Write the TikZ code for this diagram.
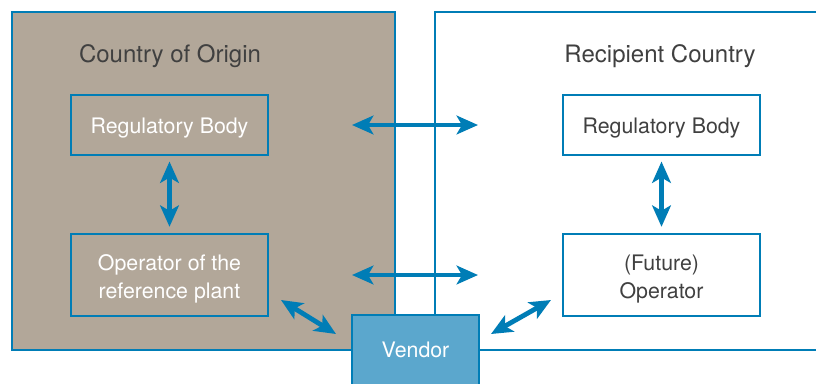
\documentclass[tikz,border=0pt]{standalone}
\usepackage{fontspec}
\setmainfont{TeX Gyre Heros}
\usepackage{tikz}
\usetikzlibrary{arrows.meta, positioning}
\definecolor{linkblue}{RGB}{0,125,182}
\definecolor{stone}{RGB}{178,167,153}
\definecolor{vendorblue}{RGB}{91,167,205}
\definecolor{textgray}{RGB}{64,64,64}

\begin{document}
\begin{tikzpicture}[
    x=0.75pt, y=-0.75pt,
    region node/.style={rectangle,draw=linkblue,line width=1.6pt,minimum height=253.5pt},
    title node/.style={font=\fontsize{18}{21}\selectfont,text=textgray},
    box node/.style={rectangle,draw=linkblue,line width=1.8pt,minimum width=147.75pt,
        align=center,font=\fontsize{16}{21}\selectfont},
    one line/.style={minimum height=45pt,text height=15.8pt},
    two lines/.style={minimum height=61.5pt,text height=38.8pt},
    vendor node/.style={rectangle,draw=linkblue,fill=vendorblue,line width=1.8pt,
        minimum width=95.25pt,minimum height=52.5pt,text=white,font=\fontsize{16}{21}\selectfont},
    arrow/.style={{Stealth[length=16pt,width=14pt,inset=4pt]}-{Stealth[length=16pt,width=14pt,inset=4pt]},
        draw=linkblue,line width=3.6pt}
]
\useasboundingbox (0,0) rectangle (816,383);
\clip (0,0) rectangle (816,383);

% Countries
\node[region node,fill=stone,minimum width=287.25pt] (origin) at (203.5,181) {};
\node[region node,fill=white,minimum width=296.25pt] (recipient) at (632.5,181) {};
\node[title node] (origintitle) at (170,56) {Country of Origin};
\node[title node] (recipienttitle) at (660,56) {Recipient Country};

% Left side
\node[box node,one line,text=white] (regorigin) at (169.5,125) {Regulatory Body};
\node[box node,two lines,text=white] (oporigin) at (169.5,275) {Operator of the\\reference plant};

% Right side
\node[box node,one line,fill=white,text=textgray] (regrecip) at (661.5,125) {Regulatory Body};
\node[box node,two lines,fill=white,text=textgray] (oprecip) at (661.5,275) {(Future)\\Operator};

% Vendor
\node[vendor node] (vendor) at (415.5,350) {Vendor};

% Arrow ends
\coordinate (regleft) at (352,125);
\coordinate (regright) at (478,125);
\coordinate (opleft) at (352,275);
\coordinate (opright) at (478,275);
\coordinate (vendorleft) at (336,334);
\coordinate (vendorright) at (491,334);
\coordinate (oporiginend) at (281,300);
\coordinate (oprecipend) at (551,300);

% Arrows
\draw[arrow] (regleft) -- (regright);
\draw[arrow] (opleft) -- (opright);
\draw[arrow,shorten <=4pt,shorten >=4.5pt] (regorigin) -- (oporigin);
\draw[arrow,shorten <=4pt,shorten >=4.5pt] (regrecip) -- (oprecip);
\draw[arrow] (oporiginend) -- (vendorleft);
\draw[arrow] (vendorright) -- (oprecipend);

\end{tikzpicture}
\end{document}
